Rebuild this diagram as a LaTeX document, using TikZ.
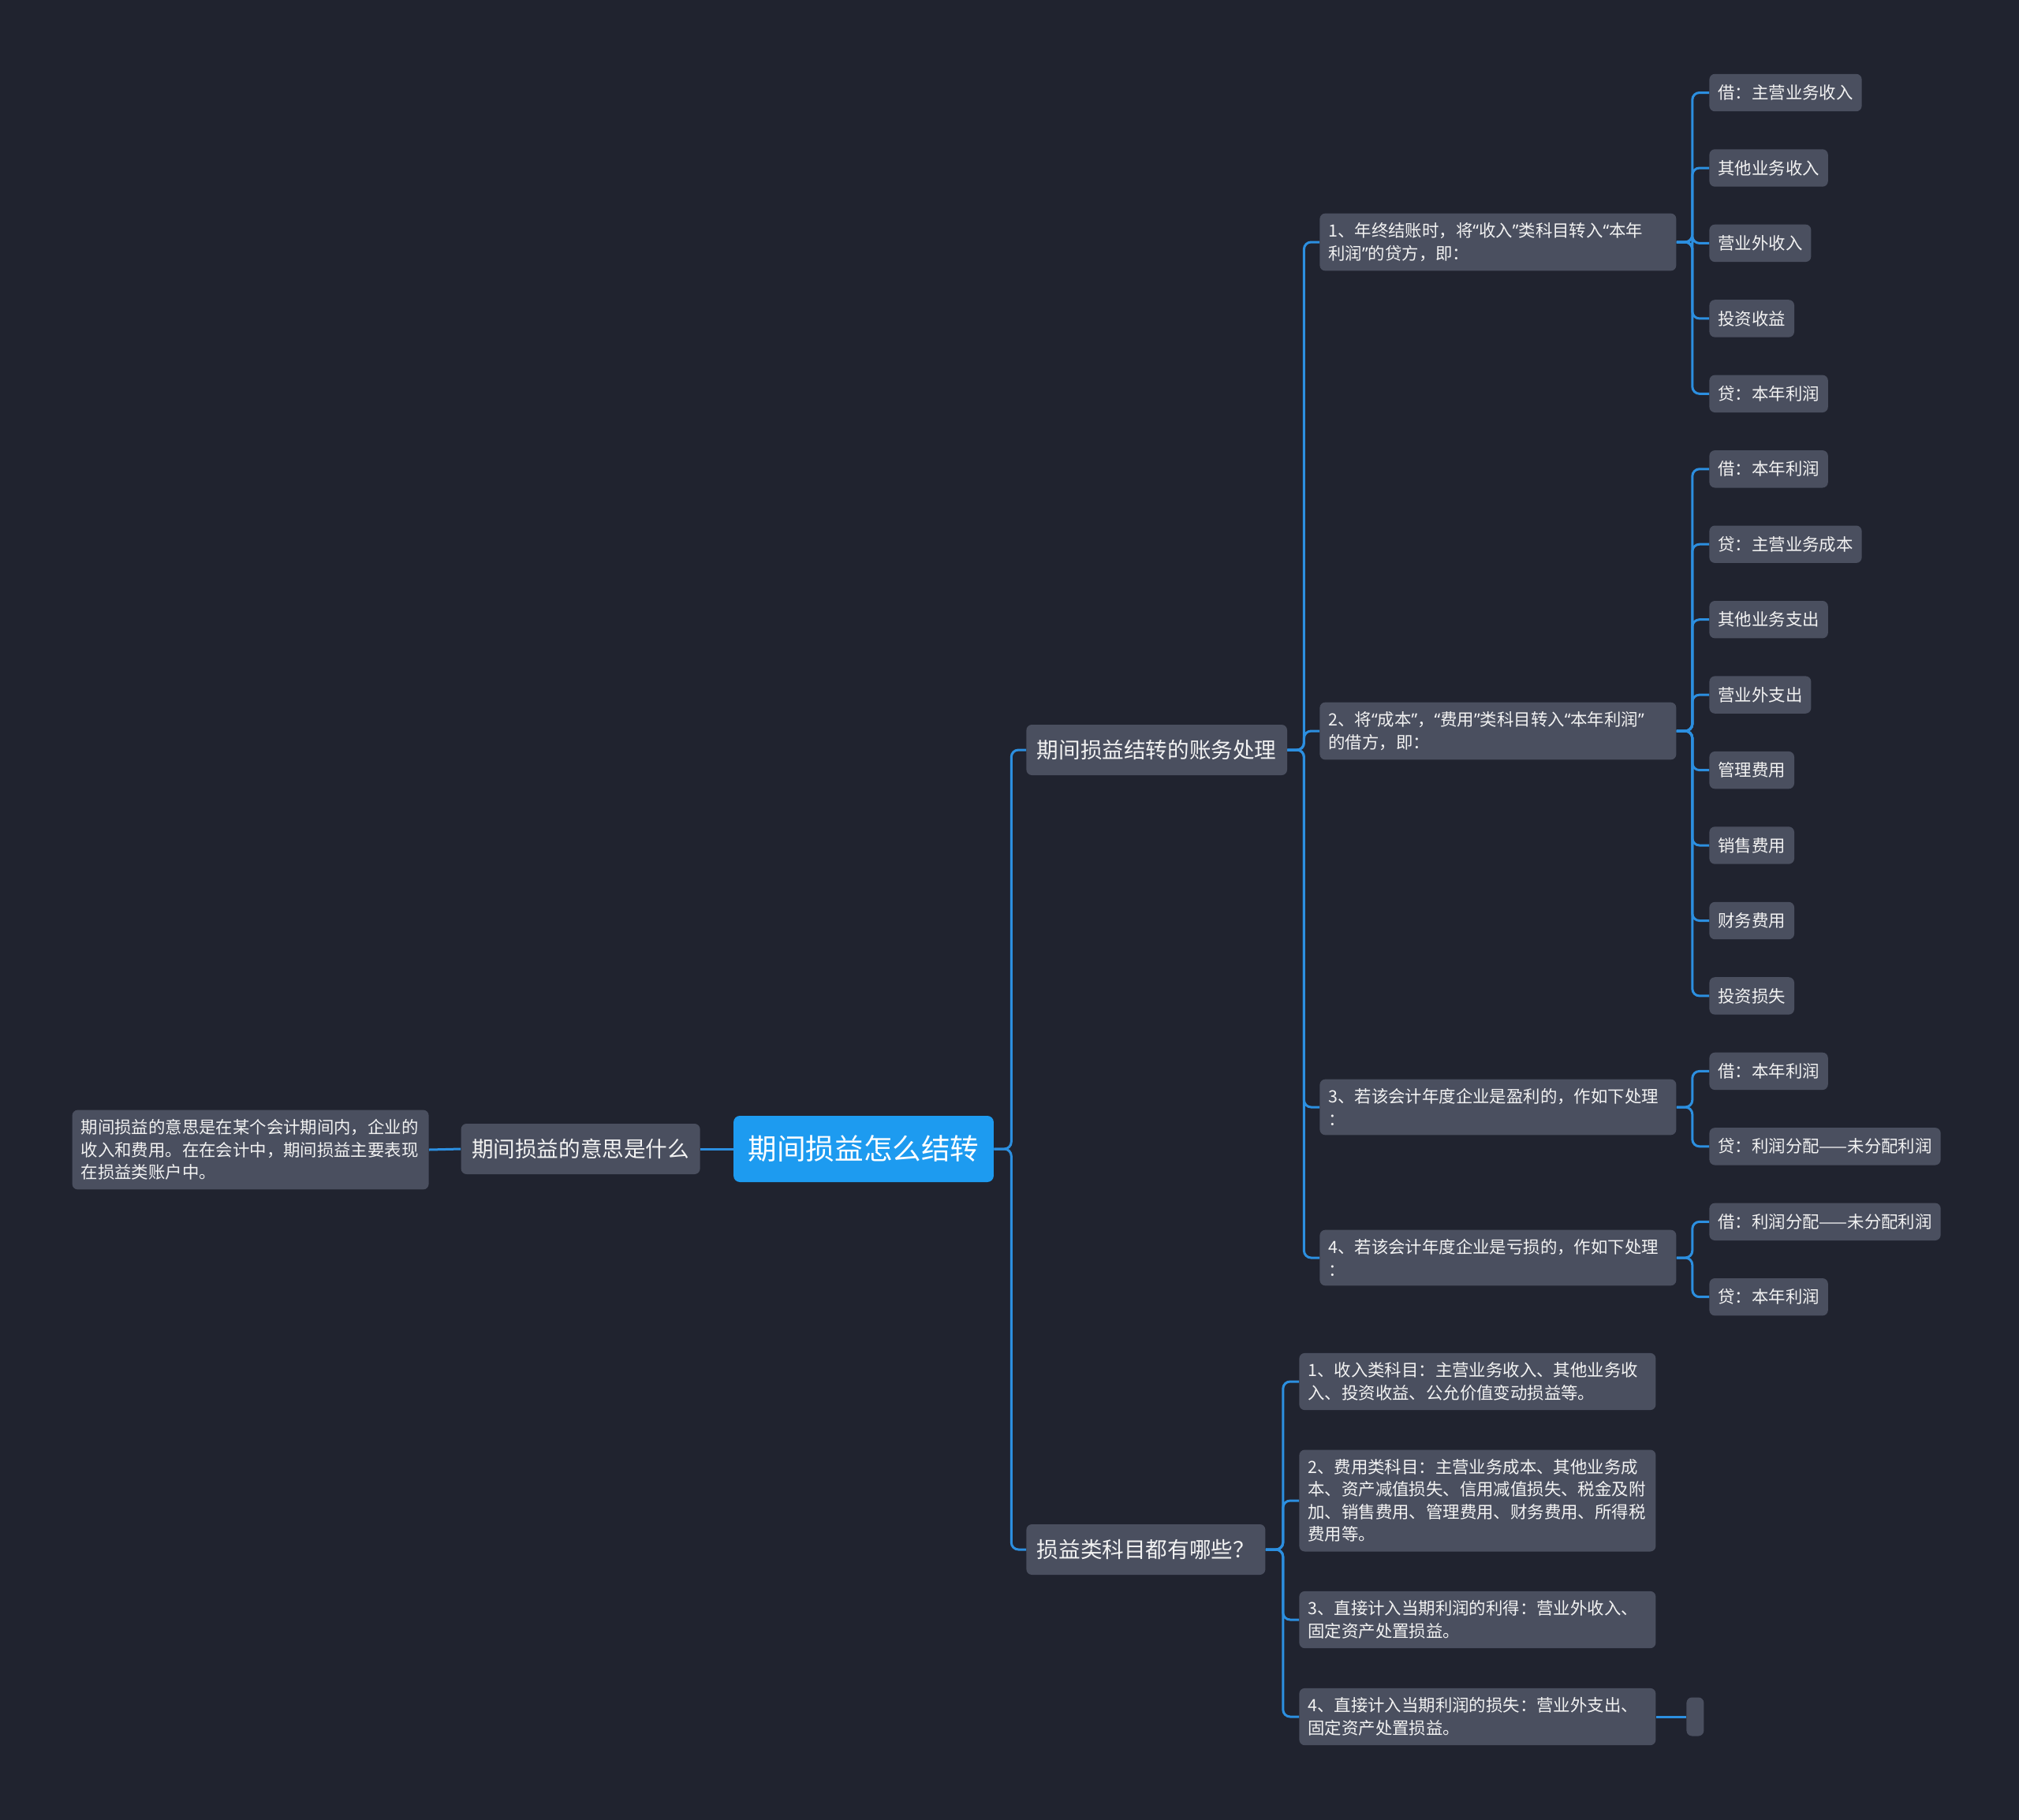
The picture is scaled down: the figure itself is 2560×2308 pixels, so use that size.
\documentclass[tikz,border=0pt]{standalone}
\usepackage{fontspec}
\setmainfont{Noto Sans CJK SC}
\newfontfamily\quotefont{Noto Sans}
\newcommand\zq[1]{{\quotefont“}#1{\quotefont”}}
\definecolor{bgdark}{HTML}{20232F}
\definecolor{boxgray}{HTML}{4A4F5F}
\definecolor{rootblue}{HTML}{1D9BF0}
\definecolor{linkblue}{HTML}{2C8FE0}
\definecolor{textwhite}{HTML}{F2F2F2}

\begin{document}
\begin{tikzpicture}[
    x=0.5pt, y=-0.5pt,
    root/.style={fill=rootblue, rounded corners=4pt, text=white,
                 font=\fontsize{18.3}{22}\selectfont, inner xsep=9.25pt, minimum height=42pt},
    topic/.style={fill=boxgray, rounded corners=3.5pt, text=textwhite,
                  font=\fontsize{13.8}{17}\selectfont, inner xsep=6.75pt, minimum height=32pt},
    para/.style={fill=boxgray, rounded corners=3.5pt, text=textwhite, anchor=west,
                 font=\fontsize{10.7}{14.2}\selectfont, text width=215pt, align=left,
                 inner xsep=5.5pt, inner ysep=6pt},
    leaf/.style={fill=boxgray, rounded corners=3.5pt, text=textwhite, anchor=west,
                 font=\fontsize{10.7}{13}\selectfont, inner xsep=5.5pt, minimum height=23.7pt},
    link/.style={draw=linkblue, line width=1.5pt, rounded corners=4.5pt}
]
\path[use as bounding box, fill=bgdark] (0,0) rectangle (2560,2308);

\node[root] (root) at (1095,1457) {期间损益怎么结转};
\node[topic, anchor=east] (mean) at (888,1457) {期间损益的意思是什么};
\node[para, anchor=east] (meantext) at (544,1458) {期间损益的意思是在某个会计期间内，企业的\\收入和费用。在在会计中，期间损益主要表现\\在损益类账户中。};
\node[topic, anchor=west] (acct) at (1301,951) {期间损益结转的账务处理};
\node[topic, anchor=west] (items) at (1301,1965) {损益类科目都有哪些？};

\node[para] (a1) at (1673,307) {1、年终结账时，将\zq{收入}类科目转入\zq{本年\\利润}的贷方，即：};
\node[para] (a2) at (1673,927) {2、将\zq{成本}，\zq{费用}类科目转入\zq{本年利润}\\的借方，即：};
\node[para] (a3) at (1673,1404) {3、若该会计年度企业是盈利的，作如下处理\\：};
\node[para] (a4) at (1673,1595) {4、若该会计年度企业是亏损的，作如下处理\\：};

\node[leaf] (a11) at (2167,117.5) {借：主营业务收入};
\node[leaf] (a12) at (2167,213.0) {其他业务收入};
\node[leaf] (a13) at (2167,308.4) {营业外收入};
\node[leaf] (a14) at (2167,403.9) {投资收益};
\node[leaf] (a15) at (2167,499.3) {贷：本年利润};
\node[leaf] (a21) at (2167,594.8) {借：本年利润};
\node[leaf] (a22) at (2167,690.2) {贷：主营业务成本};
\node[leaf] (a23) at (2167,785.7) {其他业务支出};
\node[leaf] (a24) at (2167,881.1) {营业外支出};
\node[leaf] (a25) at (2167,976.6) {管理费用};
\node[leaf] (a26) at (2167,1072.0) {销售费用};
\node[leaf] (a27) at (2167,1167.5) {财务费用};
\node[leaf] (a28) at (2167,1262.9) {投资损失};
\node[leaf] (a31) at (2167,1358.4) {借：本年利润};
\node[leaf] (a32) at (2167,1453.8) {贷：利润分配——未分配利润};
\node[leaf] (a41) at (2167,1549.3) {借：利润分配——未分配利润};
\node[leaf] (a42) at (2167,1644.7) {贷：本年利润};

\node[para] (b1) at (1647,1752) {1、收入类科目：主营业务收入、其他业务收\\入、投资收益、公允价值变动损益等。};
\node[para] (b2) at (1647,1903) {2、费用类科目：主营业务成本、其他业务成\\本、资产减值损失、信用减值损失、税金及附\\加、销售费用、管理费用、财务费用、所得税\\费用等。};
\node[para] (b3) at (1647,2054) {3、直接计入当期利润的利得：营业外收入、\\固定资产处置损益。};
\node[para] (b4) at (1647,2177) {4、直接计入当期利润的损失：营业外支出、\\固定资产处置损益。};
\node[leaf, minimum width=11pt, minimum height=24.5pt, inner sep=0pt] (b41) at (2138,2177) {};

\draw[link] (root.west) -- (mean.east);
\draw[link] (mean.west) -- (meantext.east);
\draw[link] (root.east) -- ++(22,0) |- (acct.west);
\draw[link] (root.east) -- ++(22,0) |- (items.west);
\draw[link] (acct.east) -- ++(21,0) |- (a1.west);
\draw[link] (acct.east) -- ++(21,0) |- (a2.west);
\draw[link] (acct.east) -- ++(21,0) |- (a3.west);
\draw[link] (acct.east) -- ++(21,0) |- (a4.west);
\draw[link] (a1.east) -- ++(20,0) |- (a11.west);
\draw[link] (a1.east) -- ++(20,0) |- (a12.west);
\draw[link] (a1.east) -- ++(20,0) |- (a13.west);
\draw[link] (a1.east) -- ++(20,0) |- (a14.west);
\draw[link] (a1.east) -- ++(20,0) |- (a15.west);
\draw[link] (a2.east) -- ++(20,0) |- (a21.west);
\draw[link] (a2.east) -- ++(20,0) |- (a22.west);
\draw[link] (a2.east) -- ++(20,0) |- (a23.west);
\draw[link] (a2.east) -- ++(20,0) |- (a24.west);
\draw[link] (a2.east) -- ++(20,0) |- (a25.west);
\draw[link] (a2.east) -- ++(20,0) |- (a26.west);
\draw[link] (a2.east) -- ++(20,0) |- (a27.west);
\draw[link] (a2.east) -- ++(20,0) |- (a28.west);
\draw[link] (a3.east) -- ++(20,0) |- (a31.west);
\draw[link] (a3.east) -- ++(20,0) |- (a32.west);
\draw[link] (a4.east) -- ++(20,0) |- (a41.west);
\draw[link] (a4.east) -- ++(20,0) |- (a42.west);
\draw[link] (items.east) -- ++(22,0) |- (b1.west);
\draw[link] (items.east) -- ++(22,0) |- (b2.west);
\draw[link] (items.east) -- ++(22,0) |- (b3.west);
\draw[link] (items.east) -- ++(22,0) |- (b4.west);
\draw[link] (b4.east) -- (b41.west);
\end{tikzpicture}
\end{document}
